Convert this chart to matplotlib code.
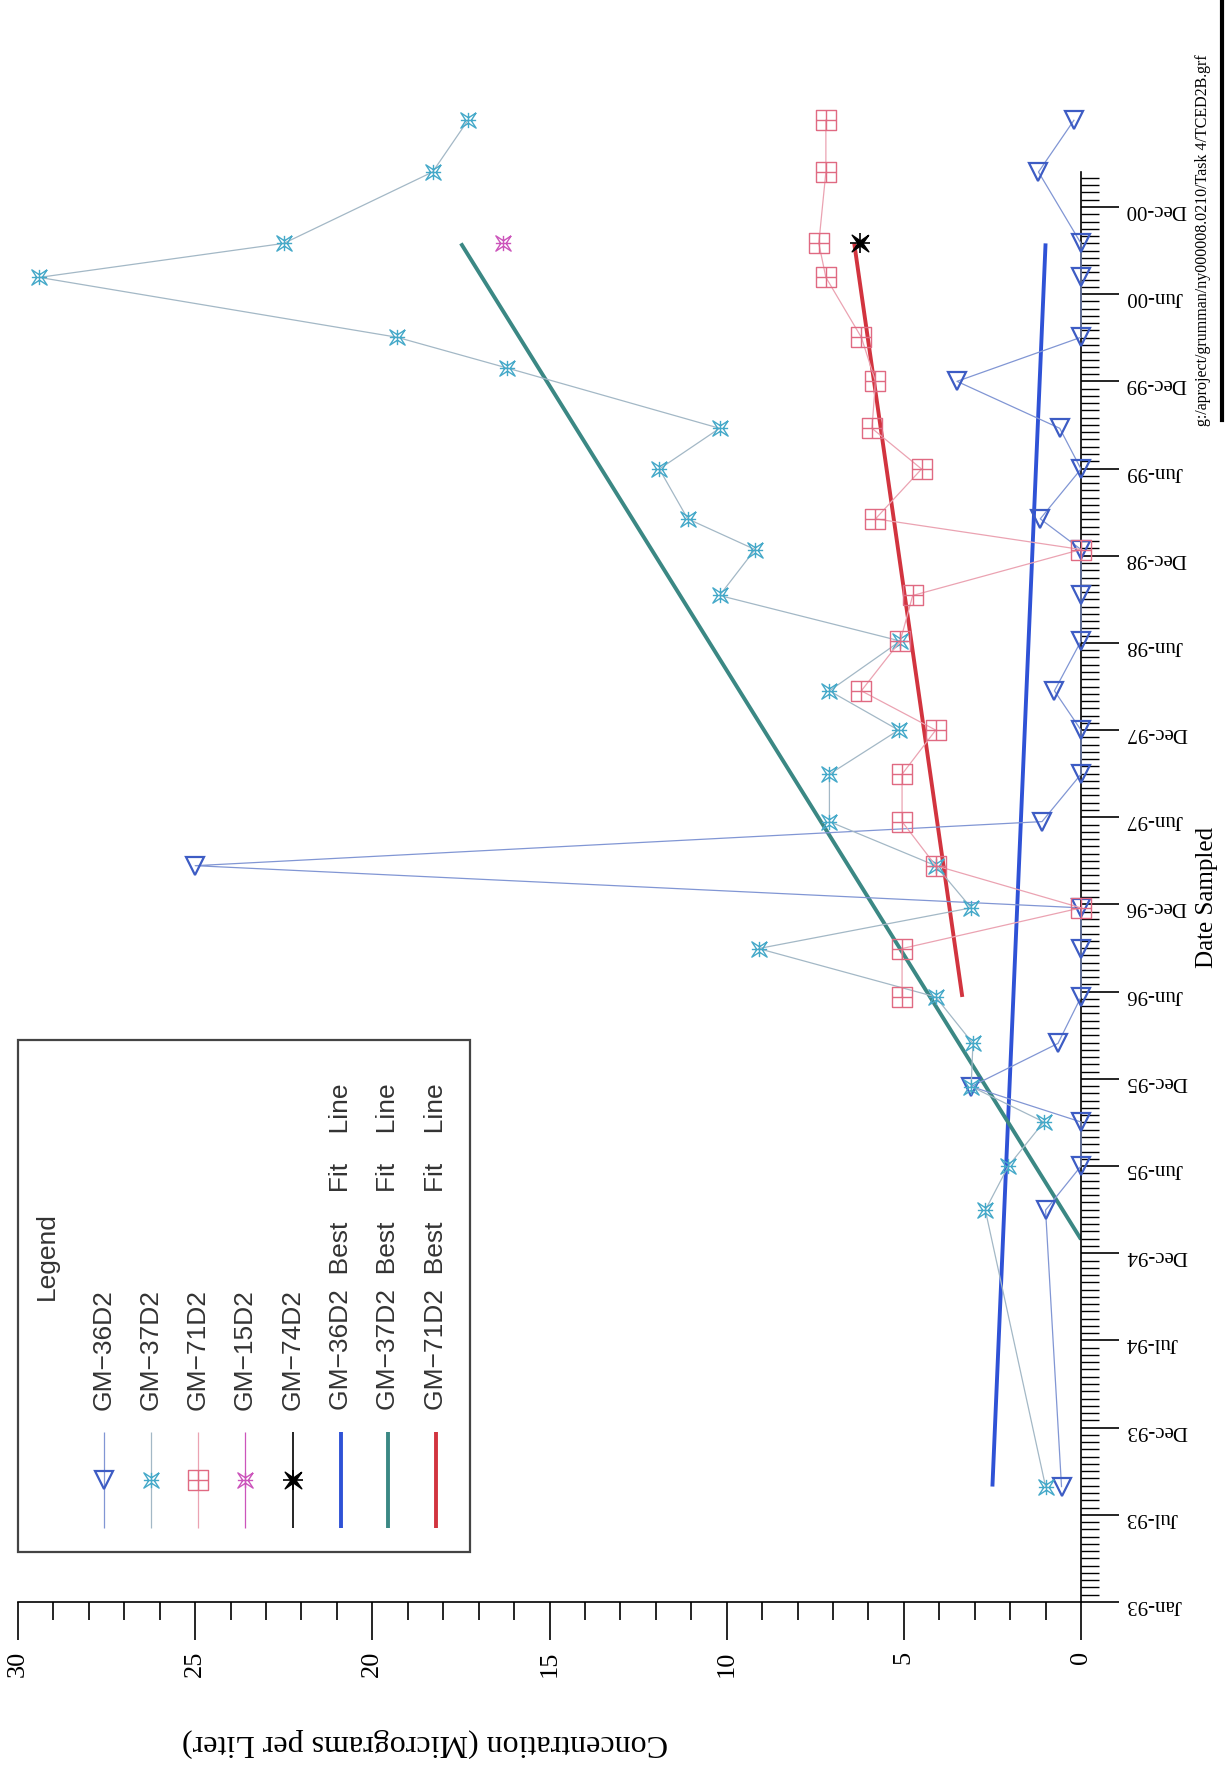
"""TCE concentration vs. date sampled (page printed rotated 90 degrees)."""

import datetime as dt

import matplotlib.dates as mdates
import matplotlib.pyplot as plt
import numpy as np
from matplotlib.lines import Line2D
from matplotlib.patches import Rectangle
from matplotlib.path import Path
from matplotlib.ticker import FixedLocator

plt.rcParams["font.family"] = ["Liberation Serif", "DejaVu Serif"]

# ---- data --------------------------------------------------------------------
dates_36 = ["1993-08-30", "1995-03-30", "1995-06-30", "1995-09-30", "1995-12-13",
            "1996-03-12", "1996-06-17", "1996-09-26", "1996-12-20", "1997-03-18",
            "1997-06-18", "1997-09-25", "1997-12-26", "1998-03-18", "1998-06-30",
            "1998-10-03", "1999-01-07", "1999-03-12", "1999-06-24", "1999-09-17",
            "1999-12-24", "2000-03-25", "2000-07-28", "2000-10-07", "2001-03-05",
            "2001-06-21"]
gm36 = [0.55, 1.0, 0, 0, 3.1, 0.65, 0, 0, 0, 25.0, 1.1, 0, 0, 0.75, 0, 0, 0,
        1.15, 0, 0.6, 3.5, 0, 0, 0, 1.2, 0.2]

dates_37 = ["1993-08-30", "1995-03-30", "1995-06-30", "1995-09-30", "1995-12-13",
            "1996-03-12", "1996-06-17", "1996-09-26", "1996-12-20", "1997-03-18",
            "1997-06-18", "1997-09-25", "1997-12-26", "1998-03-18", "1998-06-30",
            "1998-10-03", "1999-01-07", "1999-03-12", "1999-06-24", "1999-09-17",
            "2000-01-21", "2000-03-25", "2000-07-28", "2000-10-07", "2001-03-05",
            "2001-06-21"]
gm37 = [1.0, 2.7, 2.05, 1.05, 3.1, 3.05, 4.1, 9.1, 3.1, 4.1, 7.1, 7.1, 5.15,
        7.1, 5.1, 10.2, 9.2, 11.1, 11.9, 10.2, 16.2, 19.3, 29.4, 22.5, 18.3, 17.3]

dates_71 = ["1996-06-17", "1996-09-26", "1996-12-20", "1997-03-18", "1997-06-18",
            "1997-09-25", "1997-12-26", "1998-03-18", "1998-06-30", "1998-10-03",
            "1999-01-07", "1999-03-12", "1999-06-24", "1999-09-17", "1999-12-24",
            "2000-03-25", "2000-07-28", "2000-10-07", "2001-03-05", "2001-06-21"]
gm71 = [5.05, 5.05, 0, 4.1, 5.05, 5.05, 4.1, 6.2, 5.1, 4.75, 0, 5.8, 4.5, 5.9,
        5.8, 6.2, 7.2, 7.4, 7.2, 7.2]

dates_15 = ["2000-10-07"]
gm15 = [16.3]
dates_74 = ["2000-10-07"]
gm74 = [6.25]

# best fit lines: (start, end)
fit_dates_36 = ["1993-08-30", "2000-10-07"]
fit_36 = [2.5, 1.0]
fit_dates_37 = ["1995-01-28", "2000-10-07"]
fit_37 = [0.0, 17.5]
fit_dates_71 = ["1996-06-17", "2000-10-07"]
fit_71 = [3.35, 6.4]

legend_labels = ["GM\u221236D2", "GM\u221237D2", "GM\u221271D2", "GM\u221215D2",
                 "GM\u221274D2", "GM\u221236D2  Best    Fit    Line",
                 "GM\u221237D2  Best    Fit    Line", "GM\u221271D2  Best    Fit    Line"]


def num(dates):
    return mdates.date2num(np.array(dates, dtype="datetime64[D]"))


# ---- marker glyphs ---------------------------------------------------------
M, L = Path.MOVETO, Path.LINETO
star_cross = Path(
    [(1, 1), (0, 0.35), (-1, 1), (-0.35, 0), (-1, -1), (0, -0.35), (1, -1), (0.35, 0),
     (1, 1), (-1, 0), (1, 0), (0, -1), (0, 1)],
    [M, L, L, L, L, L, L, L, L, M, L, M, L])
square_cross = Path(
    [(-1, -1), (1, -1), (1, 1), (-1, 1), (-1, -1), (-1, 0), (1, 0), (0, -1), (0, 1)],
    [M, L, L, L, L, M, L, M, L])
solid_star = Path(
    [(1, 1), (0, 0.3), (-1, 1), (-0.3, 0), (-1, -1), (0, -0.3), (1, -1), (0.3, 0), (1, 1)],
    [M, L, L, L, L, L, L, L, L])

C36, C36L = "#3d5cc4", "#8196d4"
C37, C37L = "#45a9c9", "#a3b8c6"
C71, C71L = "#e06a82", "#eba3b2"
C15 = "#cc55bb"
FIT36, FIT37, FIT71 = "#2f52d6", "#3b8884", "#d2343f"

styles = {
    "36": dict(color=C36L, lw=0.9, marker="v", ms=13, mfc="none", mec=C36, mew=1.6),
    "37": dict(color=C37L, lw=0.9, marker=star_cross, ms=11, mfc="none", mec=C37, mew=1.0),
    "71": dict(color=C71L, lw=0.9, marker=square_cross, ms=14, mfc="none", mec=C71, mew=1.0),
    "15": dict(color=C15, lw=0.9, marker=star_cross, ms=11, mfc="none", mec=C15, mew=1.0),
}

# ---- figure ----------------------------------------------------------------
W, H = 1225, 1769
fig = plt.figure(figsize=(W / 100, H / 100), dpi=100)
x0, x1, y_bot, y_top = 18, 1081, 1602, 172
ax = fig.add_axes([x0 / W, 1 - y_bot / H, (x1 - x0) / W, (y_bot - y_top) / H])
ax.patch.set_alpha(0)

origin = mdates.date2num(dt.date(1993, 1, 1))
ax.set_xlim(30, 0)
ax.set_ylim(origin, origin + 2985)

for d, v, pts in ((fit_dates_36, fit_36, FIT36), (fit_dates_37, fit_37, FIT37),
                  (fit_dates_71, fit_71, FIT71)):
    ax.plot(v, num(d), color=pts, lw=2.8, solid_capstyle="butt", zorder=2)

ax.plot(gm36, num(dates_36), clip_on=False, zorder=3, **styles["36"])
ax.plot(gm37, num(dates_37), clip_on=False, zorder=3, **styles["37"])
ax.plot(gm71, num(dates_71), clip_on=False, zorder=3, **styles["71"])
ax.plot(gm15, num(dates_15), ls="none", clip_on=False, zorder=3,
        **{k: v for k, v in styles["15"].items() if k not in ("color", "lw")})
ax.plot(gm74, num(dates_74), ls="none", marker=solid_star, ms=12, color="black", zorder=4)
ax.plot(gm74, num(dates_74), ls="none", marker="+", ms=14, mew=1.2, color="black", zorder=4)

# concentration axis (bottom)
ax.xaxis.set_major_locator(FixedLocator(np.arange(0, 31, 5)))
ax.xaxis.set_minor_locator(FixedLocator(np.arange(0, 31, 1)))
ax.tick_params(axis="x", which="major", direction="out", length=27, width=1.2,
               pad=8, labelsize=19, labelrotation=90)
ax.tick_params(axis="x", which="minor", direction="out", length=13, width=1.2)

# date axis (right)
ax.yaxis.tick_right()
ax.yaxis.set_major_locator(FixedLocator(origin + 182 * np.arange(17)))
ax.yaxis.set_minor_locator(FixedLocator(origin + np.arange(0, 2986, 182 / 12)))
ax.yaxis.set_major_formatter(mdates.DateFormatter("%b-%y"))
ax.tick_params(axis="y", which="major", direction="out", length=27, width=1.2,
               pad=5, labelsize=15, labelrotation=180)
ax.tick_params(axis="y", which="minor", direction="out", length=13, width=1.0)

for side in ("top", "left"):
    ax.spines[side].set_visible(False)
for side in ("bottom", "right"):
    ax.spines[side].set_linewidth(1.2)

fig.text(425 / W, 1 - 1743 / H, "Concentration (Micrograms per Liter)", rotation=180,
         ha="center", va="center", fontsize=23)
fig.text(1207 / W, 1 - 897 / H, "Date Sampled", rotation=90, ha="center", va="center",
         fontsize=18)
fig.text(1203 / W, 1 - 426 / H, "g:/aproject/grumman/ny000008.0210/Task 4/TCED2B.grf",
         rotation=90, ha="center", va="bottom", fontsize=11.5)

# ---- legend (drawn by hand so it can be turned with the page) -----------------
lg = fig.add_axes([0, 0, 1, 1], zorder=5)
lg.set_xlim(0, W)
lg.set_ylim(H, 0)
lg.axis("off")
lg.add_patch(Rectangle((18, 1040), 452, 512, fill=False, ec="#444444", lw=1.6))
lg.add_line(Line2D([1222, 1222], [0, 420], color="black", lw=3))
lg.text(47, 1300, "Legend", rotation=90, ha="center", va="bottom", fontsize=19,
        family=["Liberation Sans", "DejaVu Sans"], color="#333333")

cols = [104, 151, 198, 245, 293, 341, 388, 436]
entry_styles = [styles["36"], styles["37"], styles["71"], styles["15"],
                dict(color="black", lw=1.2, marker=solid_star, ms=12, mfc="black", mec="black"),
                dict(color=FIT36, lw=2.8), dict(color=FIT37, lw=2.8), dict(color=FIT71, lw=2.8)]
for xc, label, st in zip(cols, legend_labels, entry_styles):
    st = dict(st)
    marker = st.pop("marker", None)
    lg.plot([xc, xc], [1432, 1528], **{k: v for k, v in st.items()
                                      if k in ("color", "lw")}, solid_capstyle="butt")
    if marker is not None:
        lg.plot([xc], [1480], ls="none", marker=marker,
                **{k: v for k, v in st.items() if k not in ("color", "lw")})
    lg.text(xc, 1410, label, rotation=90, ha="center", va="bottom", fontsize=19,
            family=["Liberation Sans", "DejaVu Sans"], color="#333333")
lg.plot([cols[4]], [1480], ls="none", marker="+", ms=14, mew=1.2, color="black")

fig.savefig("out.png", dpi=100)
